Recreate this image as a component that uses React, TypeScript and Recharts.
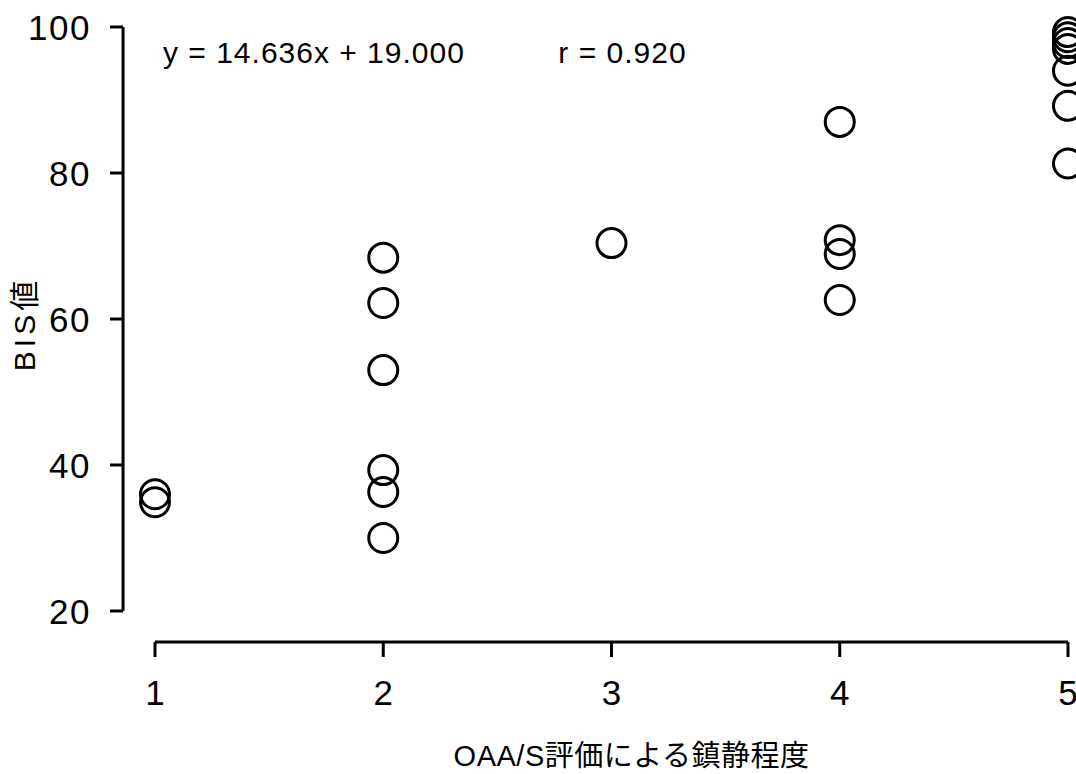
import React from 'react';
import {
  ScatterChart,
  Scatter,
  XAxis,
  YAxis,
  ReferenceLine,
  ReferenceDot,
} from 'recharts';

// OAA/S score (x) and BIS value (y) for each patient
const oaasScores = [1, 1, 2, 2, 2, 2, 2, 2, 3, 4, 4, 4, 4, 5, 5, 5, 5, 5, 5, 5];
const bisValues = [
  36.0, 34.9, 68.4, 62.2, 53.0, 39.3, 36.3, 30.0, 70.4, 87.0, 70.8, 68.9, 62.6,
  99.3, 98.6, 97.8, 97.0, 94.0, 89.2, 81.3,
];
const xTicks = [1, 2, 3, 4, 5];
const yTicks = [20, 40, 60, 80, 100];
const equationText = 'y = 14.636x + 19.000';
const rText = 'r = 0.920';

const data = oaasScores.map((x, i) => ({ x, y: bisValues[i] }));

const FONT = '"Liberation Sans", Arial, "Noto Sans CJK JP", sans-serif';

const XTick = (props: any) => {
  const { x, y, payload } = props;
  return (
    <g>
      <line x1={x} x2={x} y1={y + 31} y2={y + 46} stroke="#000" strokeWidth={3} />
      <text
        x={x}
        y={y + 94}
        textAnchor="middle"
        fontSize={35}
        fontFamily={FONT}
        fill="#000"
      >
        {payload.value}
      </text>
    </g>
  );
};

const YTick = (props: any) => {
  const { x, y, payload } = props;
  return (
    <g>
      <line x1={x - 45} x2={x - 32} y1={y} y2={y} stroke="#000" strokeWidth={3} />
      <text
        x={x - 64}
        y={y + 12.5}
        textAnchor="end"
        fontSize={35}
        letterSpacing={1.5}
        fontFamily={FONT}
        fill="#000"
      >
        {payload.value}
      </text>
    </g>
  );
};

const Ring = (props: any) => {
  const { cx, cy } = props;
  return <circle cx={cx} cy={cy} r={14.5} fill="none" stroke="#000" strokeWidth={3} />;
};

export default function App() {
  return (
    <div
      style={{
        position: 'absolute',
        left: 0,
        top: 0,
        width: 1076,
        height: 774,
        background: '#fff',
        overflow: 'hidden',
      }}
    >
      <ScatterChart
        width={1076}
        height={774}
        margin={{ top: 27, right: 8, left: 0, bottom: 0 }}
      >
        <XAxis
          type="number"
          dataKey="x"
          domain={[1, 5]}
          ticks={xTicks}
          height={163}
          axisLine={false}
          tickLine={false}
          tickSize={0}
          tickMargin={0}
          tick={<XTick />}
          label={(p: any) => {
            const vb = p.viewBox;
            return (
              <text
                x={vb.x + vb.width / 2 + 20}
                y={766}
                textAnchor="middle"
                fontSize={29}
                letterSpacing={0.5}
                fontFamily={FONT}
                fill="#000"
              >
                OAA/S評価による鎮静程度
              </text>
            );
          }}
        />
        <YAxis
          type="number"
          dataKey="y"
          domain={[20, 100]}
          ticks={yTicks}
          width={155}
          axisLine={false}
          tickLine={false}
          tickSize={0}
          tickMargin={0}
          tick={<YTick />}
          label={(p: any) => {
            const vb = p.viewBox;
            const cx = vb.x + 24;
            const cy = vb.y + vb.height / 2 + 5;
            return (
              <text
                transform={`translate(${cx},${cy}) rotate(-90)`}
                x={0}
                y={0}
                dy={11}
                textAnchor="middle"
                fontSize={30}
                letterSpacing={4}
                fontFamily={FONT}
                fill="#000"
              >
                BIS値
              </text>
            );
          }}
        />
        <ReferenceLine
          segment={[
            { x: 0.86, y: 20 },
            { x: 0.86, y: 100 },
          ]}
          stroke="#000"
          strokeWidth={3}
          ifOverflow="visible"
        />
        <ReferenceLine
          segment={[
            { x: 1, y: 15.75 },
            { x: 5, y: 15.75 },
          ]}
          stroke="#000"
          strokeWidth={3}
          ifOverflow="visible"
        />
        <ReferenceDot
          x={1.035}
          y={95.1}
          r={0}
          fill="none"
          stroke="none"
          ifOverflow="visible"
          label={(p: any) => (
            <text
              x={p.viewBox.x}
              y={p.viewBox.y}
              fontSize={30}
              letterSpacing={1}
              fontFamily={FONT}
              fill="#000"
            >
              {equationText}
            </text>
          )}
        />
        <ReferenceDot
          x={3.329}
          y={95.1}
          r={0}
          fill="none"
          stroke="none"
          ifOverflow="visible"
          label={(p: any) => (
            <text
              x={p.viewBox.x}
              y={p.viewBox.y}
              textAnchor="end"
              fontSize={30}
              letterSpacing={1}
              fontFamily={FONT}
              fill="#000"
            >
              {rText}
            </text>
          )}
        />
        <Scatter data={data} shape={<Ring />} isAnimationActive={false} />
      </ScatterChart>
    </div>
  );
}
